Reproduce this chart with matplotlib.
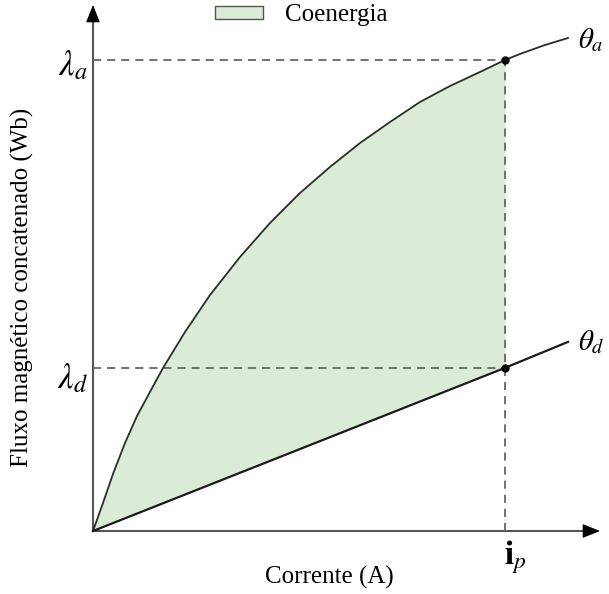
import matplotlib.pyplot as plt
from matplotlib.patches import Patch

plt.rcParams['font.family'] = ['Liberation Serif', 'DejaVu Serif']
plt.rcParams['mathtext.fontset'] = 'stix'

# curva theta_a (fluxo x corrente), unidades normalizadas: i_p = 1
corrente_a = [0.0, 0.0243, 0.0485, 0.0777, 0.1068, 0.1383, 0.1699, 0.2233, 0.2840,
              0.3568, 0.4296, 0.5024, 0.5752, 0.6481, 0.7209, 0.7937, 0.8665,
              0.9393, 1.0, 1.0364, 1.0971, 1.1529]
fluxo_a = [0.0, 0.0680, 0.1383, 0.2136, 0.2791, 0.3374, 0.3956, 0.4830, 0.5728,
           0.6650, 0.7476, 0.8204, 0.8835, 0.9417, 0.9927, 1.0413, 1.0801,
           1.1141, 1.1432, 1.1578, 1.1796, 1.1966]

# reta theta_d
corrente_d = [0.0, 1.0, 1.153]
fluxo_d = [0.0, 0.396, 0.459]

i_p = 1.0
lambda_a = 1.1432
lambda_d = 0.396

fig = plt.figure(figsize=(6.09, 5.94), dpi=100)
ax = fig.add_axes([0, 0, 1, 1])
ax.set_xlim(-0.2257, 1.2524)
ax.set_ylim(-0.1529, 1.2888)
ax.axis('off')

# area de coenergia (entre as duas curvas ate i_p)
xs = [x for x in corrente_a if x <= i_p]
ys_top = [y for x, y in zip(corrente_a, fluxo_a) if x <= i_p]
ys_bot = [lambda_d * x for x in xs]
ax.fill_between(xs, ys_bot, ys_top, color='#dbebd8', lw=0, zorder=1)

# eixos com setas
axis_color = '#555555'
x_tip, y_tip = 1.2306, 1.2767
ax.plot([0, x_tip - 0.03], [0, 0], color=axis_color, lw=1.5, zorder=2)
ax.plot([0, 0], [0, y_tip - 0.03], color=axis_color, lw=1.5, zorder=2)
head = dict(arrowstyle='-|>,head_length=0.55,head_width=0.22', color='black',
            lw=0.8, mutation_scale=20, shrinkA=0, shrinkB=0)
ax.annotate('', xy=(x_tip, 0), xytext=(x_tip - 0.036, 0), arrowprops=head)
ax.annotate('', xy=(0, y_tip), xytext=(0, y_tip - 0.04), arrowprops=head)

# linhas tracejadas
dash = dict(color='#666666', lw=1.3, ls=(0, (4.5, 3.3)), zorder=2)
ax.plot([0, i_p], [lambda_a, lambda_a], **dash)
ax.plot([0, i_p], [lambda_d, lambda_d], **dash)
ax.plot([i_p, i_p], [0, lambda_a], **dash)

# curvas
ax.plot(corrente_a, fluxo_a, color='#2b2b2b', lw=1.3, zorder=3,
        solid_joinstyle='round', antialiased=True)
ax.plot(corrente_d, fluxo_d, color='#1a1a1a', lw=1.6, zorder=3)
ax.plot([i_p, i_p], [lambda_a, lambda_d], 'o', color='black', ms=5, zorder=4)

# rotulos
ax.text(1.177, 1.192, r'$\theta_a$', fontsize=21, ha='left', va='center')
ax.text(1.177, 0.459, r'$\theta_d$', fontsize=21, ha='left', va='center')
ax.text(-0.012, 1.128, r'$\lambda_a$', fontsize=25, ha='right', va='center')
ax.text(-0.012, 0.369, r'$\lambda_d$', fontsize=25, ha='right', va='center')
ax.text(1.026, -0.063, r'$\mathbf{i}_p$', fontsize=24, ha='center', va='center')

ax.text(0.573, -0.112, 'Corrente (A)', fontsize=18, ha='center', va='center')
ax.text(-0.172, 0.592, 'Fluxo magnético concatenado (Wb)', fontsize=18,
        rotation=90, ha='center', va='center')

ax.legend(handles=[Patch(facecolor='#dbebd8', edgecolor='#555555', label='Coenergia')],
          loc='center left', bbox_to_anchor=(0.3366, 0.974), frameon=False,
          fontsize=18, handlelength=1.92, handleheight=0.44, handletextpad=0.88,
          borderaxespad=0)

fig.savefig('out.png', dpi=100)
